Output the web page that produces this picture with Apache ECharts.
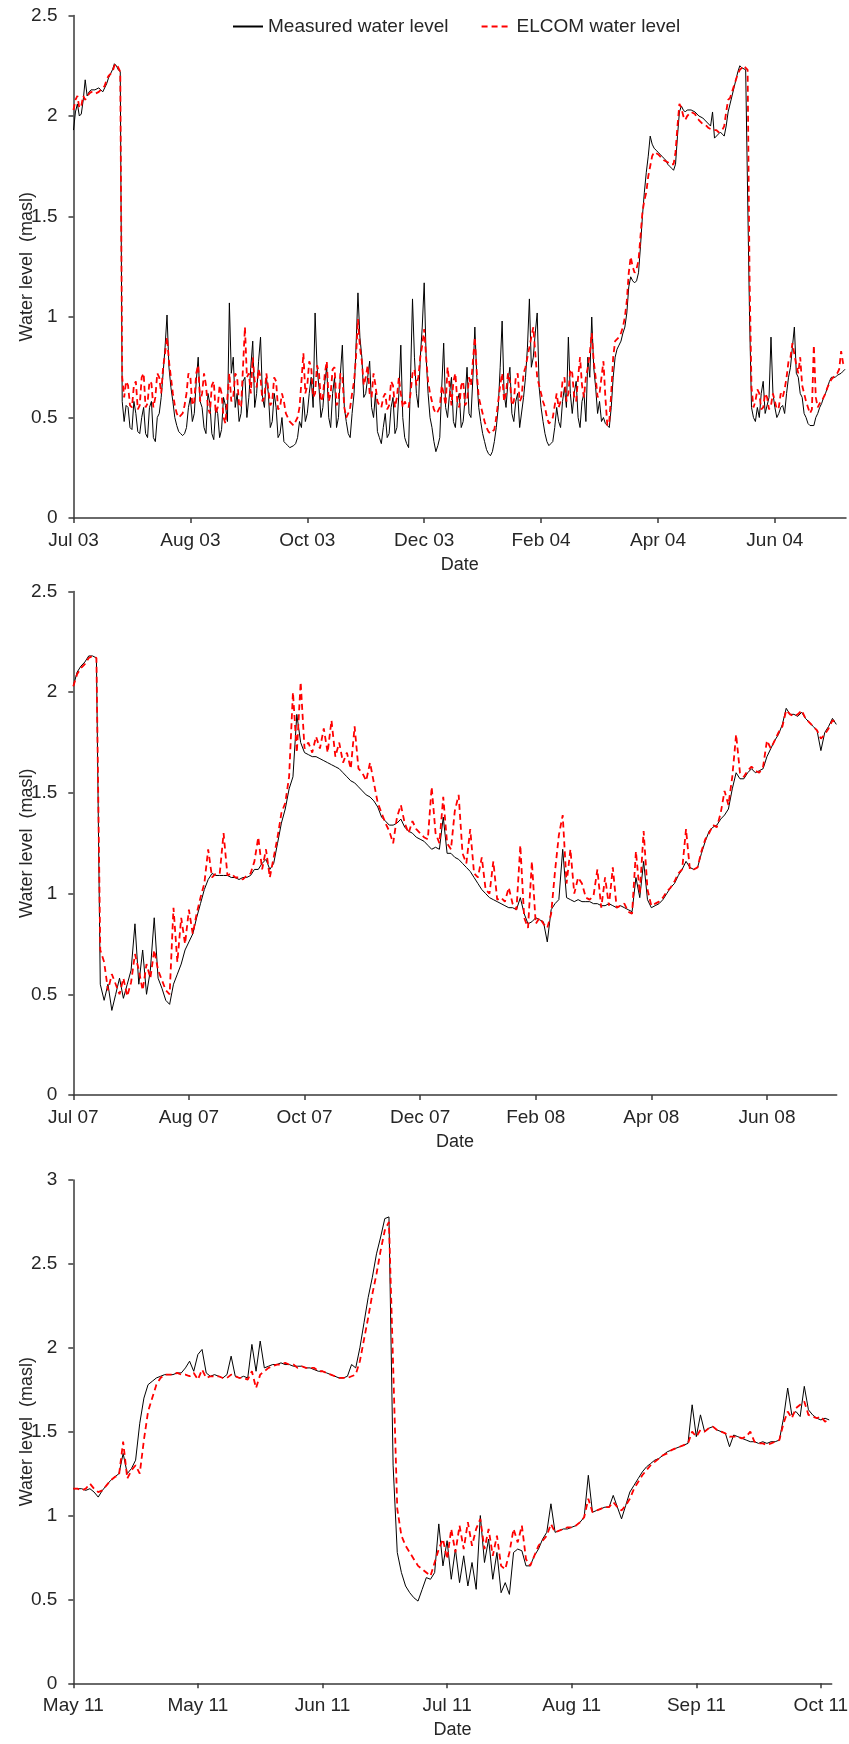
<!DOCTYPE html>
<html><head><meta charset="utf-8">
<script src="https://cdn.jsdelivr.net/npm/echarts@6/dist/echarts.min.js"></script>
<style>html,body{margin:0;padding:0;background:#fff}#c{width:849px;height:1744px}</style>
</head><body><div id="c"></div>
<script>
// ---------- DATA ----------
const seriesNames = ['Measured water level', 'ELCOM water level'];
const yAxisTitle = 'Water level  (masl)';
const xAxisTitle = 'Date';

// Panel 1: Jul 2003 - Jul 2004 (days since start, one value per day)
const p1TickLabels = ['Jul 03', 'Aug 03', 'Oct 03', 'Dec 03', 'Feb 04', 'Apr 04', 'Jun 04'];
const p1TickDays = 60;
const p1DayStep = 1;
const p1LastDay = 396.5;
const p1Measured = [1.93,2.02,2.06,2.00,2.01,2.08,2.18,2.10,2.12,2.13,
 2.13,2.13,2.13,2.14,2.13,2.12,2.12,2.16,2.19,2.21,
 2.23,2.26,2.25,2.23,2.22,0.58,0.48,0.56,0.55,0.45,
 0.44,0.58,0.52,0.43,0.42,0.50,0.55,0.42,0.40,0.55,
 0.58,0.40,0.38,0.50,0.52,0.60,0.72,0.85,1.01,0.75,
 0.65,0.58,0.50,0.46,0.43,0.42,0.41,0.42,0.45,0.55,
 0.60,0.48,0.52,0.68,0.80,0.58,0.55,0.45,0.42,0.62,
 0.57,0.42,0.39,0.55,0.52,0.40,0.44,0.60,0.56,0.48,
 1.07,0.72,0.80,0.55,0.62,0.48,0.52,0.68,0.70,0.50,
 0.60,0.75,0.88,0.55,0.62,0.78,0.90,0.60,0.55,0.70,
 0.62,0.45,0.48,0.62,0.55,0.40,0.42,0.50,0.38,0.37,
 0.36,0.35,0.35,0.36,0.37,0.40,0.48,0.45,0.60,0.48,
 0.52,0.62,0.70,0.55,1.02,0.75,0.65,0.50,0.55,0.68,
 0.75,0.50,0.45,0.62,0.70,0.45,0.50,0.72,0.86,0.55,
 0.48,0.42,0.40,0.52,0.62,0.85,1.12,0.90,0.80,0.60,
 0.62,0.70,0.78,0.55,0.50,0.62,0.43,0.40,0.37,0.45,
 0.52,0.40,0.42,0.55,0.60,0.42,0.45,0.62,0.86,0.50,
 0.40,0.37,0.35,0.70,1.09,0.80,0.62,0.55,0.80,0.95,
 1.17,0.80,0.62,0.50,0.45,0.38,0.33,0.36,0.40,0.65,
 0.87,0.55,0.50,0.62,0.70,0.48,0.45,0.58,0.62,0.45,
 0.48,0.60,0.75,0.52,0.50,0.70,0.95,0.70,0.55,0.48,
 0.42,0.38,0.34,0.32,0.31,0.33,0.38,0.45,0.55,0.75,
 0.98,0.62,0.55,0.68,0.75,0.52,0.48,0.58,0.62,0.45,
 0.45,0.60,0.70,0.85,1.09,0.75,0.80,0.92,1.02,0.65,
 0.55,0.48,0.42,0.38,0.36,0.37,0.38,0.45,0.55,0.48,
 0.45,0.58,0.65,0.55,0.90,0.62,0.52,0.62,0.68,0.50,
 0.45,0.58,0.62,0.48,0.80,0.70,1.00,0.75,0.65,0.52,
 0.58,0.48,0.50,0.47,0.46,0.45,0.55,0.70,0.80,0.84,
 0.86,0.88,0.92,0.95,1.02,1.15,1.20,1.18,1.17,1.18,
 1.22,1.35,1.50,1.62,1.72,1.80,1.90,1.86,1.84,1.83,
 1.82,1.81,1.80,1.79,1.78,1.76,1.75,1.74,1.73,1.76,
 1.90,2.02,2.05,2.03,2.02,2.03,2.03,2.03,2.03,2.02,
 2.01,2.00,2.00,1.99,1.98,1.97,1.96,1.95,2.02,1.89,
 1.89,1.91,1.92,1.91,1.90,1.95,2.02,2.06,2.10,2.14,
 2.18,2.22,2.25,2.24,2.24,2.23,2.23,1.00,0.55,0.50,
 0.48,0.55,0.50,0.62,0.68,0.52,0.52,0.60,0.90,0.62,
 0.55,0.50,0.52,0.55,0.56,0.52,0.62,0.70,0.75,0.85,
 0.95,0.72,0.70,0.62,0.60,0.52,0.50,0.47,0.46,0.46,
 0.46,0.50,0.52,0.55,0.57,0.60,0.62,0.65,0.68,0.70,
 0.70,0.70,0.71,0.71,0.72,0.73,0.74];
const p1Elcom = [2.03,2.08,2.10,2.04,2.05,2.10,2.08,2.10,2.11,2.12,
 2.12,2.11,2.11,2.12,2.12,2.14,2.15,2.18,2.20,2.21,
 2.22,2.25,2.26,2.24,2.22,0.70,0.60,0.68,0.66,0.56,
 0.55,0.66,0.68,0.54,0.56,0.70,0.72,0.55,0.57,0.68,
 0.67,0.55,0.60,0.72,0.70,0.62,0.75,0.82,0.90,0.78,
 0.70,0.62,0.56,0.52,0.50,0.50,0.52,0.56,0.62,0.72,
 0.70,0.56,0.58,0.72,0.76,0.58,0.62,0.72,0.66,0.55,
 0.52,0.66,0.68,0.52,0.55,0.66,0.62,0.50,0.47,0.60,
 0.72,0.58,0.60,0.72,0.70,0.56,0.55,0.75,0.95,0.70,
 0.72,0.62,0.80,0.68,0.65,0.74,0.70,0.58,0.60,0.72,
 0.72,0.56,0.58,0.70,0.68,0.54,0.55,0.62,0.58,0.52,
 0.50,0.48,0.47,0.46,0.46,0.50,0.55,0.68,0.82,0.62,
 0.66,0.78,0.75,0.60,0.62,0.76,0.72,0.58,0.60,0.72,
 0.78,0.58,0.62,0.74,0.75,0.56,0.58,0.72,0.70,0.55,
 0.50,0.52,0.55,0.62,0.68,0.80,0.99,0.85,0.78,0.66,
 0.70,0.76,0.62,0.60,0.72,0.66,0.58,0.56,0.55,0.60,
 0.62,0.54,0.56,0.68,0.66,0.55,0.60,0.70,0.62,0.55,
 0.58,0.56,0.55,0.62,0.72,0.74,0.66,0.70,0.80,0.86,
 0.94,0.80,0.68,0.62,0.58,0.54,0.52,0.53,0.55,0.66,
 0.62,0.56,0.75,0.66,0.56,0.68,0.72,0.58,0.55,0.66,
 0.68,0.56,0.58,0.70,0.66,0.78,0.90,0.72,0.60,0.56,
 0.52,0.48,0.45,0.43,0.42,0.43,0.44,0.50,0.58,0.66,
 0.72,0.58,0.62,0.72,0.68,0.56,0.58,0.70,0.72,0.58,
 0.60,0.72,0.75,0.80,0.85,0.90,0.95,0.82,0.70,0.66,
 0.62,0.58,0.55,0.50,0.47,0.48,0.50,0.56,0.62,0.55,
 0.58,0.68,0.70,0.58,0.62,0.74,0.72,0.60,0.58,0.70,
 0.80,0.66,0.60,0.70,0.75,0.82,0.92,0.78,0.70,0.60,
 0.62,0.70,0.78,0.60,0.46,0.48,0.62,0.80,0.88,0.89,
 0.90,0.92,0.95,1.00,1.08,1.22,1.30,1.25,1.22,1.24,
 1.28,1.40,1.52,1.58,1.62,1.70,1.75,1.80,1.82,1.82,
 1.81,1.80,1.79,1.78,1.78,1.77,1.76,1.76,1.76,1.82,
 1.95,2.06,2.04,2.00,1.98,2.00,2.01,2.02,2.02,2.01,
 1.99,1.98,1.97,1.96,1.96,1.95,1.94,1.94,1.93,1.93,
 1.93,1.92,1.92,1.93,1.95,2.02,2.08,2.09,2.12,2.15,
 2.18,2.21,2.23,2.24,2.25,2.24,2.23,1.20,0.65,0.55,
 0.58,0.64,0.62,0.54,0.55,0.62,0.60,0.54,0.56,0.62,
 0.62,0.54,0.55,0.62,0.60,0.64,0.70,0.78,0.80,0.87,
 0.87,0.76,0.72,0.80,0.66,0.62,0.58,0.55,0.52,0.54,
 0.86,0.60,0.55,0.57,0.58,0.60,0.62,0.65,0.67,0.69,
 0.70,0.71,0.72,0.74,0.83,0.77,0.75];

// Panel 2: Jul 2007 - Jul 2008 (one value every 2 days)
const p2TickLabels = ['Jul 07', 'Aug 07', 'Oct 07', 'Dec 07', 'Feb 08', 'Apr 08', 'Jun 08'];
const p2TickDays = 60;
const p2DayStep = 2;
const p2LastDay = 396.2;
const p2Measured = [2.03,2.10,2.13,2.15,2.18,2.18,2.17,0.55,0.47,0.55,
 0.42,0.50,0.58,0.48,0.55,0.62,0.85,0.55,0.72,0.50,
 0.62,0.88,0.58,0.53,0.47,0.45,0.55,0.60,0.65,0.72,
 0.76,0.80,0.88,0.95,1.02,1.07,1.10,1.09,1.09,1.09,
 1.09,1.08,1.08,1.07,1.08,1.08,1.09,1.12,1.12,1.15,
 1.17,1.12,1.15,1.25,1.35,1.42,1.52,1.58,1.89,1.75,
 1.70,1.69,1.68,1.68,1.67,1.66,1.65,1.64,1.63,1.62,
 1.60,1.58,1.56,1.55,1.53,1.51,1.49,1.48,1.46,1.43,
 1.38,1.36,1.34,1.34,1.35,1.37,1.33,1.31,1.30,1.28,
 1.27,1.26,1.24,1.22,1.23,1.22,1.38,1.20,1.20,1.18,
 1.17,1.15,1.13,1.11,1.08,1.05,1.02,1.00,0.98,0.97,
 0.96,0.95,0.94,0.93,0.93,0.92,0.98,0.90,0.85,0.86,
 0.88,0.87,0.86,0.76,0.92,0.95,0.97,1.22,0.98,0.97,
 0.96,0.97,0.96,0.96,0.96,0.95,0.95,0.94,0.94,0.95,
 0.94,0.93,0.94,0.93,0.92,0.91,1.08,0.98,1.16,0.97,
 0.93,0.94,0.95,0.97,1.00,1.03,1.05,1.09,1.12,1.16,
 1.13,1.12,1.13,1.20,1.26,1.31,1.33,1.34,1.37,1.39,
 1.42,1.52,1.60,1.57,1.57,1.60,1.62,1.60,1.61,1.62,
 1.68,1.72,1.76,1.79,1.84,1.92,1.89,1.89,1.88,1.90,
 1.87,1.85,1.83,1.81,1.71,1.80,1.83,1.87,1.84];
const p2Elcom = [2.03,2.09,2.12,2.14,2.17,2.18,2.17,0.72,0.66,0.52,
 0.60,0.55,0.50,0.58,0.49,0.56,0.70,0.62,0.52,0.65,
 0.58,0.72,0.62,0.57,0.52,0.50,0.93,0.66,0.88,0.75,
 0.92,0.80,0.90,0.98,1.05,1.22,1.08,1.10,1.10,1.30,
 1.09,1.10,1.08,1.08,1.07,1.09,1.10,1.16,1.28,1.12,
 1.22,1.08,1.18,1.28,1.40,1.45,1.58,2.00,1.70,2.05,
 1.72,1.75,1.70,1.78,1.72,1.82,1.70,1.86,1.68,1.75,
 1.65,1.70,1.62,1.83,1.62,1.60,1.56,1.65,1.55,1.45,
 1.40,1.35,1.31,1.25,1.38,1.44,1.35,1.30,1.36,1.32,
 1.30,1.28,1.27,1.53,1.30,1.25,1.48,1.25,1.22,1.41,
 1.49,1.20,1.15,1.32,1.10,1.08,1.18,1.02,1.00,1.16,
 0.97,0.98,0.96,1.03,0.95,0.92,1.24,0.88,0.83,1.16,
 0.85,0.88,0.85,0.83,0.90,1.11,1.29,1.39,1.05,1.22,
 1.00,1.08,1.05,0.98,0.97,0.99,1.12,0.93,1.08,0.94,
 1.13,0.93,0.94,0.95,0.91,0.90,1.21,1.00,1.31,1.02,
 0.94,0.95,0.96,0.98,1.01,1.03,1.06,1.10,1.12,1.32,
 1.12,1.12,1.13,1.21,1.27,1.30,1.34,1.33,1.40,1.51,
 1.44,1.58,1.79,1.60,1.58,1.61,1.63,1.61,1.60,1.63,
 1.76,1.72,1.76,1.80,1.83,1.91,1.89,1.88,1.89,1.91,
 1.87,1.85,1.83,1.81,1.77,1.79,1.82,1.86,1.85];

// Panel 3: May 2011 - Oct 2011 (one value per day)
const p3TickLabels = ['May 11', 'May 11', 'Jun 11', 'Jul 11', 'Aug 11', 'Sep 11', 'Oct 11'];
const p3TickDays = 30;
const p3DayStep = 1;
const p3LastDay = 182.6;
const p3Measured = [1.16,1.16,1.16,1.15,1.16,1.14,1.11,1.15,1.18,1.21,
 1.23,1.25,1.37,1.25,1.28,1.33,1.55,1.70,1.78,1.80,
 1.82,1.83,1.84,1.84,1.84,1.85,1.85,1.88,1.92,1.86,
 1.96,1.99,1.85,1.83,1.84,1.83,1.82,1.84,1.95,1.83,
 1.82,1.83,1.82,2.02,1.86,2.04,1.88,1.89,1.90,1.90,
 1.91,1.90,1.90,1.89,1.89,1.89,1.88,1.88,1.87,1.86,
 1.86,1.85,1.84,1.83,1.82,1.82,1.83,1.90,1.88,2.00,
 2.15,2.30,2.42,2.56,2.66,2.77,2.78,1.30,0.78,0.66,
 0.58,0.54,0.51,0.49,0.56,0.63,0.62,0.66,0.95,0.70,
 0.85,0.62,0.80,0.60,0.76,0.58,0.72,0.56,1.00,0.72,
 0.86,0.62,0.78,0.54,0.60,0.53,0.78,0.80,0.79,0.70,
 0.70,0.76,0.80,0.86,0.90,1.07,0.90,0.91,0.92,0.92,
 0.93,0.94,0.96,0.99,1.24,1.02,1.03,1.04,1.05,1.05,
 1.12,1.05,0.98,1.06,1.14,1.18,1.22,1.26,1.29,1.31,
 1.33,1.34,1.36,1.38,1.39,1.40,1.41,1.42,1.43,1.66,
 1.47,1.60,1.50,1.52,1.53,1.51,1.50,1.49,1.41,1.48,
 1.47,1.46,1.45,1.44,1.44,1.43,1.44,1.43,1.44,1.44,
 1.45,1.58,1.76,1.60,1.62,1.59,1.77,1.63,1.60,1.58,
 1.57,1.58,1.57];
const p3Elcom = [1.16,1.16,1.15,1.16,1.19,1.16,1.14,1.15,1.18,1.21,
 1.23,1.24,1.44,1.22,1.27,1.30,1.25,1.45,1.62,1.70,
 1.78,1.82,1.84,1.84,1.84,1.85,1.84,1.84,1.83,1.85,
 1.81,1.87,1.82,1.83,1.83,1.83,1.82,1.82,1.84,1.83,
 1.82,1.82,1.81,1.86,1.76,1.84,1.86,1.88,1.89,1.90,
 1.90,1.91,1.90,1.90,1.88,1.89,1.88,1.88,1.88,1.86,
 1.86,1.85,1.84,1.83,1.82,1.82,1.82,1.83,1.84,1.92,
 2.05,2.18,2.32,2.44,2.58,2.70,2.75,1.90,1.04,0.88,
 0.82,0.78,0.74,0.70,0.68,0.66,0.64,0.72,0.80,0.86,
 0.74,0.92,0.78,0.94,0.80,0.96,0.82,0.92,0.98,0.80,
 0.92,0.76,0.88,0.70,0.68,0.78,0.92,0.84,0.94,0.74,
 0.70,0.76,0.82,0.85,0.88,0.95,0.90,0.91,0.92,0.93,
 0.93,0.94,0.96,0.99,1.10,1.02,1.03,1.04,1.05,1.05,
 1.08,1.05,1.03,1.06,1.10,1.16,1.20,1.24,1.27,1.30,
 1.32,1.34,1.36,1.37,1.39,1.40,1.41,1.42,1.43,1.50,
 1.47,1.51,1.50,1.52,1.53,1.51,1.50,1.49,1.47,1.47,
 1.47,1.46,1.47,1.50,1.44,1.43,1.43,1.42,1.43,1.44,
 1.45,1.55,1.62,1.58,1.64,1.66,1.68,1.60,1.59,1.58,
 1.59,1.56,1.57];

const yMaxes = [2.5, 2.5, 3];

// ---------- LAYOUT / STYLE ----------
const FONT = "'Liberation Sans', Arial, sans-serif";
const TXT = '#262626';
const AX = '#3a3a3a';

const panels = [
  { labels: p1TickLabels, tickDays: p1TickDays, step: p1DayStep, last: p1LastDay, m: p1Measured, e: p1Elcom,
    grid: { left: 73.5, top: 15.5, width: 772.5, height: 502.5 } },
  { labels: p2TickLabels, tickDays: p2TickDays, step: p2DayStep, last: p2LastDay, m: p2Measured, e: p2Elcom,
    grid: { left: 73.3, top: 591.5, width: 763.4, height: 503.5 } },
  { labels: p3TickLabels, tickDays: p3TickDays, step: p3DayStep, last: p3LastDay, m: p3Measured, e: p3Elcom,
    grid: { left: 73.3, top: 1180, width: 758.4, height: 503.3 } }
];

const grids = [], xAxes = [], yAxes = [], series = [];
panels.forEach((p, k) => {
  grids.push(Object.assign({ containLabel: false, outerBoundsMode: 'none' }, p.grid));
  const tickVals = p.labels.map((_, i) => i * p.tickDays);
  xAxes.push({
    type: 'value', gridIndex: k, min: 0, max: p.last, interval: p.tickDays,
    name: xAxisTitle, nameLocation: 'middle', nameGap: 38, nameMoveOverlap: false,
    nameTextStyle: { fontFamily: FONT, fontSize: 18, color: TXT },
    axisLine: { show: true, onZero: false, lineStyle: { color: AX, width: 1.5 } },
    axisTick: { show: true, inside: false, length: 5, lineStyle: { color: AX, width: 1.5 }, customValues: tickVals },
    axisLabel: {
      show: true, margin: 13, fontFamily: FONT, fontSize: 19, color: TXT,
      showMinLabel: true, showMaxLabel: true, hideOverlap: false, customValues: tickVals,
      formatter: (v) => { const i = Math.round(v / p.tickDays); return Math.abs(v - i * p.tickDays) < 1e-6 ? (p.labels[i] || '') : ''; }
    },
    splitLine: { show: false }
  });
  yAxes.push({
    type: 'value', gridIndex: k, min: 0, max: yMaxes[k], interval: 0.5,
    name: yAxisTitle, nameLocation: 'middle', nameGap: 37, nameMoveOverlap: false,
    nameTextStyle: { fontFamily: FONT, fontSize: 18, color: TXT },
    axisLine: { show: true, lineStyle: { color: AX, width: 1.5 } },
    axisTick: { show: true, inside: false, length: 5, lineStyle: { color: AX, width: 1.5 } },
    axisLabel: { margin: 16, fontFamily: FONT, fontSize: 19, color: TXT },
    splitLine: { show: false }
  });
  series.push({
    name: seriesNames[0], type: 'line', xAxisIndex: k, yAxisIndex: k,
    data: p.m.map((v, i) => [i * p.step, v]),
    showSymbol: false, symbol: 'none', animation: false,
    lineStyle: { color: '#000000', width: 1 }, itemStyle: { color: '#000000' }, z: 2
  });
  series.push({
    name: seriesNames[1], type: 'line', xAxisIndex: k, yAxisIndex: k,
    data: p.e.map((v, i) => [i * p.step, v]),
    showSymbol: false, symbol: 'none', animation: false,
    lineStyle: { color: '#ff0000', width: 1.8, type: [6, 4] }, itemStyle: { color: '#ff0000' }, z: 3
  });
});

const chart = echarts.init(document.getElementById('c'), null, { renderer: 'canvas' });
chart.setOption({
  backgroundColor: '#ffffff',
  animation: false,
  grid: grids, xAxis: xAxes, yAxis: yAxes, series: series,
  legend: {
    data: seriesNames, left: 227, top: 12, itemWidth: 30, itemHeight: 14, itemGap: 32,
    itemStyle: { opacity: 0 },
    textStyle: { fontFamily: FONT, fontSize: 19, color: TXT }
  }
});
</script></body></html>
